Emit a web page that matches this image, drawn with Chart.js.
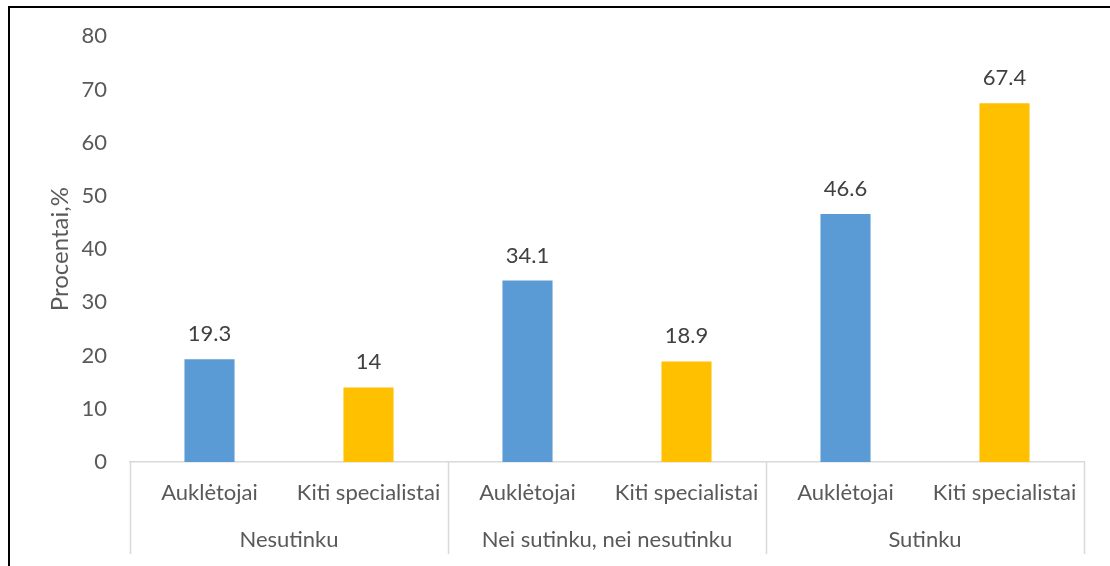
<!DOCTYPE html>
<html>
<head>
<meta charset="utf-8">
<script src="https://cdn.jsdelivr.net/npm/chart.js@4"></script>
<style>
  html, body { margin: 0; padding: 0; background: #fff; }
  #wrap { width: 1110px; height: 566px; position: relative; }
</style>
</head>
<body>
<div id="wrap"><canvas id="grafikas"></canvas></div>
<script>
// Apklausos rezultatai
const grupes = ['Nesutinku', 'Nei sutinku, nei nesutinku', 'Sutinku'];
const pogrupiai = ['Auklėtojai', 'Kiti specialistai'];
const reiksmes = [19.3, 14, 34.1, 18.9, 46.6, 67.4];
const spalvos = ['#5B9BD5', '#FFC000'];
const yTicks = [0, 10, 20, 30, 40, 50, 60, 70, 80];

const SRIFTAS = 'Lato, "Open Sans", sans-serif';
const DYDIS = 22;

const etiketes = grupes.flatMap(() => pogrupiai);
const juostuSpalvos = etiketes.map((_, i) => spalvos[i % 2]);

// reikšmės virš stulpelių, grupių pavadinimai ir rėmelis
const piesimas = {
  id: 'piesimas',
  afterDatasetsDraw(chart) {
    const ctx = chart.ctx;
    const meta = chart.getDatasetMeta(0);
    ctx.save();
    ctx.font = DYDIS + 'px ' + SRIFTAS;
    ctx.fillStyle = '#404040';
    ctx.textAlign = 'center';
    ctx.textBaseline = 'alphabetic';
    meta.data.forEach((bar, i) => {
      ctx.fillText(String(reiksmes[i]), bar.x, bar.y - 18);
    });
    ctx.restore();
  },
  afterDraw(chart) {
    const ctx = chart.ctx;
    const x = chart.scales.x;
    const plotis = x.getPixelForValue(1) - x.getPixelForValue(0);
    ctx.save();
    ctx.strokeStyle = '#D9D9D9';
    ctx.lineWidth = 1.5;
    for (let g = 0; g <= grupes.length; g++) {
      const px = Math.round(x.getPixelForValue(g * 2) - plotis / 2) + 0.5;
      ctx.beginPath();
      ctx.moveTo(px, x.top);
      ctx.lineTo(px, x.bottom);
      ctx.stroke();
    }
    ctx.font = DYDIS + 'px ' + SRIFTAS;
    ctx.fillStyle = '#595959';
    ctx.textAlign = 'center';
    ctx.textBaseline = 'middle';
    grupes.forEach((g, i) => {
      const cx = (x.getPixelForValue(i * 2) + x.getPixelForValue(i * 2 + 1)) / 2;
      ctx.fillText(g, cx, 540);
    });
    // rėmelis
    ctx.strokeStyle = '#000';
    ctx.lineWidth = 2;
    ctx.beginPath();
    ctx.moveTo(9, 566);
    ctx.lineTo(9, 7);
    ctx.lineTo(1110, 7);
    ctx.stroke();
    ctx.restore();
  }
};

new Chart(document.getElementById('grafikas'), {
  type: 'bar',
  data: {
    labels: etiketes,
    datasets: [{
      data: reiksmes,
      backgroundColor: juostuSpalvos,
      categoryPercentage: 1,
      barPercentage: 0.315
    }]
  },
  options: {
    responsive: true,
    maintainAspectRatio: false,
    animation: false,
    layout: { padding: { top: 36, right: 26, bottom: 12, left: 0 } },
    plugins: { legend: { display: false }, tooltip: { enabled: false } },
    scales: {
      x: {
        grid: { display: false, drawTicks: false },
        border: { display: true, color: '#D9D9D9', width: 1.5 },
        ticks: { color: '#595959', font: { family: SRIFTAS, size: DYDIS }, padding: 18, maxRotation: 0, autoSkip: false },
        afterFit(scale) { scale.height = 92; }
      },
      y: {
        min: 0,
        max: 80,
        afterBuildTicks(scale) { scale.ticks = yTicks.map(v => ({ value: v })); },
        grid: { display: false, drawTicks: false },
        border: { display: false },
        ticks: { color: '#595959', font: { family: SRIFTAS, size: DYDIS }, padding: 23 },
        title: {
          display: true,
          text: 'Procentai,%',
          color: '#595959',
          font: { family: SRIFTAS, size: 24 },
          padding: { top: 46, bottom: 0 }
        },
        afterFit(scale) { scale.width = 130; }
      }
    }
  },
  plugins: [piesimas]
});
</script>
</body>
</html>
